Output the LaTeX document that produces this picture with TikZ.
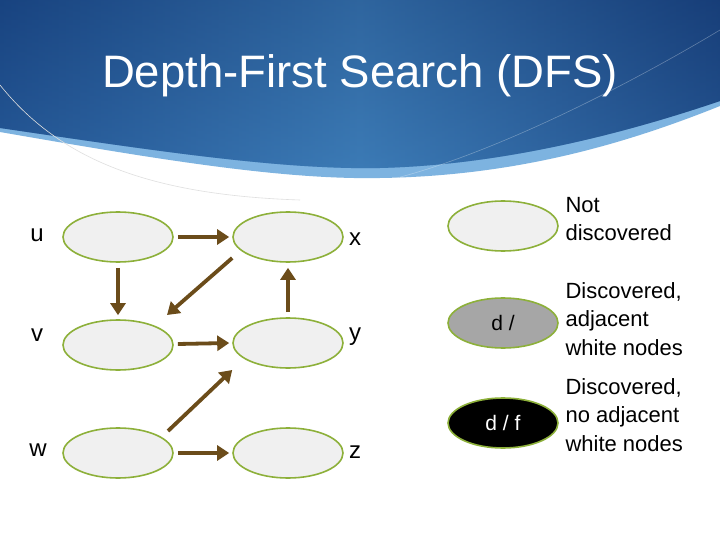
\documentclass[tikz,border=0pt]{standalone}
\usepackage{fontspec}
\setmainfont{Liberation Sans}
\usetikzlibrary{arrows.meta,calc,shapes.geometric}
\definecolor{hdark}{HTML}{1A4787}
\definecolor{hmid}{HTML}{3C7BB6}
\definecolor{hright}{HTML}{183F7C}
\definecolor{hband}{HTML}{7DB3E0}
\definecolor{nfill}{HTML}{F0F0F0}
\definecolor{nborder}{HTML}{8DB03A}
\definecolor{arrc}{HTML}{6B4C1A}
\definecolor{gfill}{HTML}{A6A6A6}
\begin{document}
\begin{tikzpicture}[x=1pt,y=-1pt,
  vert/.style={ellipse,draw=nborder,line width=1.6pt,fill=nfill,minimum width=110pt,minimum height=50pt,inner sep=0pt},
  lbl/.style={font=\fontsize{24}{28}\selectfont,text=black},
  leg/.style={font=\fontsize{22}{28.5}\selectfont,align=left,anchor=west,text=black},
  arr/.style={draw=arrc,line width=3.8pt,-{Triangle[length=12pt,width=15pt]}}]
\useasboundingbox (0,0) rectangle (720,540);
\fill[white] (0,0) rectangle (720,540);
% header
\fill[hband] (0,0) -- (720,0) -- (720,106) .. controls (630,142) and (520,176) .. (380,178)
   .. controls (280,180) and (150,158) .. (0,132) -- cycle;
\shade[left color=hdark,right color=hright,middle color=hmid] (0,0) -- (720,0) -- (720,101)
   .. controls (620,135) and (500,165) .. (380,168)
   .. controls (280,170) and (150,150) .. (0,128) -- cycle;
\shade[top color=hdark!85!black,bottom color=hmid,opacity=0.35] (0,0) -- (720,0) -- (720,101)
   .. controls (620,135) and (500,165) .. (380,168)
   .. controls (280,170) and (150,150) .. (0,128) -- cycle;
\draw[white,opacity=0.3,line width=0.6pt] (720,30) .. controls (620,90) and (480,160) .. (380,182);
\draw[gray!25,line width=0.6pt] (0,85) .. controls (60,160) and (150,195) .. (300,200);
\node[text=white,font=\fontsize{45.5}{48}\selectfont] (title) at (360,76) {Depth-First Search (DFS)};
% graph nodes
\node[vert] (u) at (118,237) {};
\node[vert] (x) at (288,237) {};
\node[vert] (v) at (118,345) {};
\node[vert] (y) at (288,343) {};
\node[vert] (w) at (118,453) {};
\node[vert] (z) at (288,453) {};
\node[lbl] (lu) at (37,235) {u};
\node[lbl] (lx) at (355,239) {x};
\node[lbl] (lv) at (37,335) {v};
\node[lbl] (ly) at (355,337) {y};
\node[lbl] (lw) at (38,450) {w};
\node[lbl] (lz) at (355,452) {z};
% edges
\draw[arr] ($(u.east)+(4,0)$) -- ($(x.west)+(-3,0)$);
\draw[arr] ($(u.south)+(0,5)$) -- ($(v.north)+(0,-4)$);
\draw[arr] ($(x.west)+(0,21)$) -- ($(v.center)+(49,-30)$);
\draw[arr] ($(y.north)+(0,-5)$) -- ($(x.south)+(0,5)$);
\draw[arr] ($(v.east)+(4,-1)$) -- ($(y.west)+(-3,0)$);
\draw[arr] ($(w.center)+(50,-22)$) -- ($(y.west)+(0,27)$);
\draw[arr] ($(w.east)+(4,0)$) -- ($(z.west)+(-3,0)$);
% legend
\node[vert] (l1) at (503,226) {};
\node[vert,fill=gfill] (l2) at (503,323) {\fontsize{21}{24}\selectfont d /};
\node[vert,fill=black] (l3) at (503,423) {\color{white}\fontsize{21}{24}\selectfont d / f};
\node[leg] (t1) at (562,219) {Not\\discovered};
\node[leg] (t2) at (562,319) {Discovered,\\adjacent\\white nodes};
\node[leg] (t3) at (562,415) {Discovered,\\no adjacent\\white nodes};
\end{tikzpicture}
\end{document}
